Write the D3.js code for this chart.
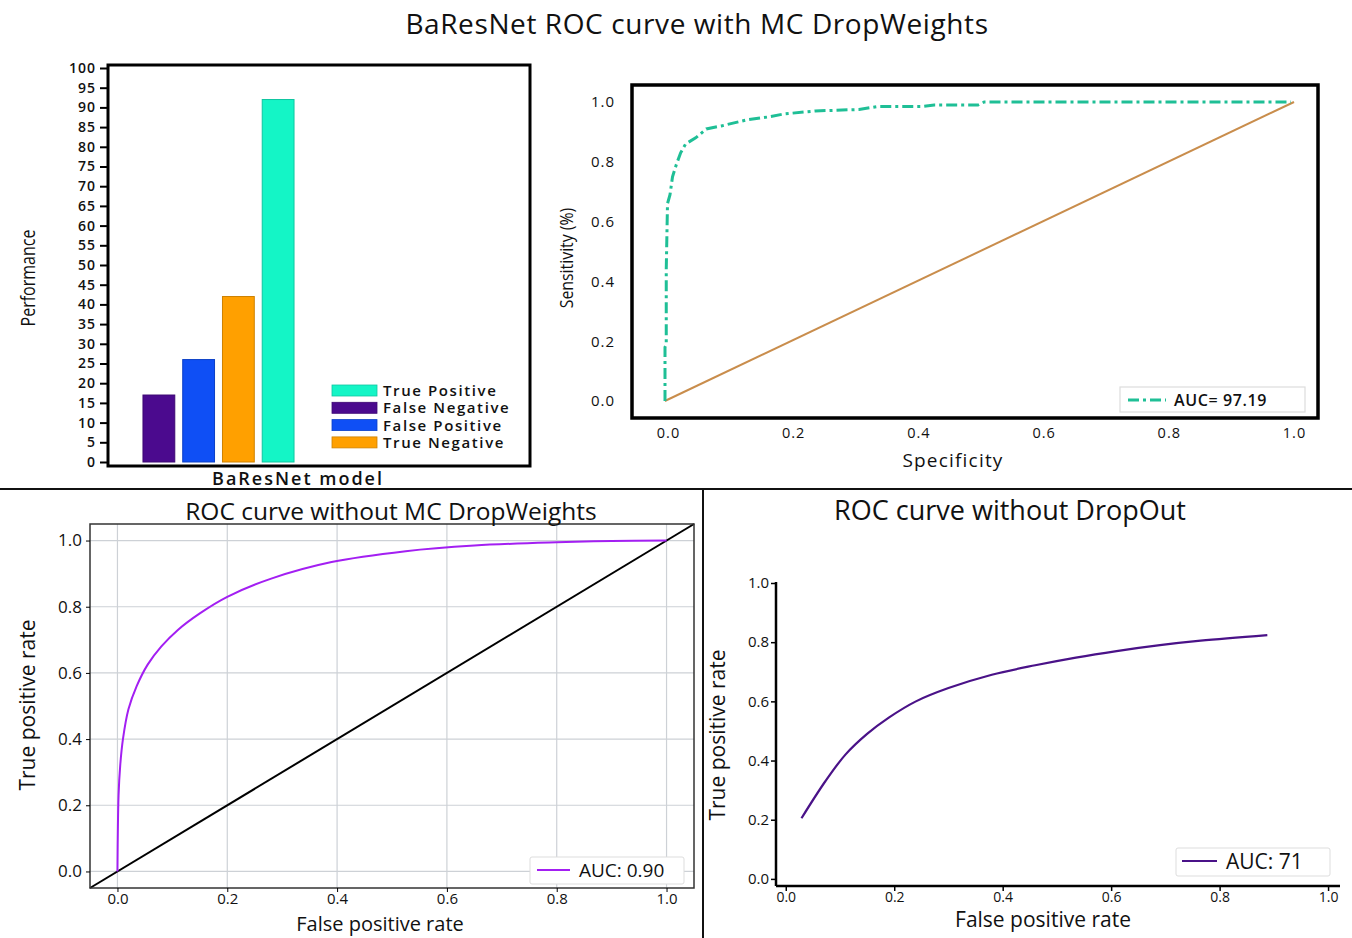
<!DOCTYPE html>
<meta charset="utf-8">
<script src="https://d3js.org/d3.v7.min.js"></script>
<style>
  body { margin: 0; background: #fff; }
  text { font-family: "Open Sans", sans-serif; fill: #111; }
</style>
<svg id="fig" width="1352" height="938"></svg>
<script>

// ---- data ----
var barCats = ["False Negative", "False Positive", "True Negative", "True Positive"];
var barVals = [17, 26, 42, 92];
var barCols = ["#4b0a8e", "#0f4ff5", "#ffa000", "#14f5c6"];
var legendOrder = ["True Positive", "False Negative", "False Positive", "True Negative"];
var barTicks = d3.range(0, 101, 5);

// ROC with MC DropWeights (fpr, tpr)
var dwFpr = [0, 0, 0.002, 0.002, 0.004, 0.008, 0.012, 0.018, 0.025, 0.033, 0.049, 0.066, 0.09, 0.13, 0.165, 0.19, 0.24, 0.31, 0.34, 0.41, 0.43, 0.50, 0.51, 1.0];
var dwTpr = [0, 0.18, 0.19, 0.44, 0.66, 0.69, 0.75, 0.79, 0.83, 0.86, 0.88, 0.91, 0.92, 0.94, 0.95, 0.96, 0.97, 0.975, 0.985, 0.985, 0.99, 0.99, 1.0, 1.0];

// ROC without MC DropWeights
var noDwFpr = [0, 0.002, 0.005, 0.01, 0.02, 0.035, 0.055, 0.08, 0.11, 0.15, 0.2, 0.28, 0.39, 0.525, 0.65, 0.8, 0.9, 1.0];
var noDwTpr = [0, 0.23, 0.32, 0.40, 0.49, 0.56, 0.625, 0.68, 0.73, 0.78, 0.83, 0.885, 0.935, 0.968, 0.985, 0.995, 0.999, 1.0];

// ROC without DropOut
var noDoFpr = [0.029, 0.073, 0.11, 0.15, 0.19, 0.24, 0.30, 0.38, 0.46, 0.535, 0.61, 0.69, 0.765, 0.888];
var noDoTpr = [0.205, 0.33, 0.42, 0.49, 0.545, 0.60, 0.645, 0.69, 0.722, 0.748, 0.77, 0.79, 0.805, 0.824];

var rocTicks = [0, 0.2, 0.4, 0.6, 0.8, 1.0];

var svg = d3.select("#fig");

// main title
svg.append("text").attr("x", 697).attr("y", 34).attr("text-anchor", "middle")
  .style("font-size", "28px").style("letter-spacing", "0.6px").text("BaResNet ROC curve with MC DropWeights");

// section dividers
svg.append("line").attr("x1", 0).attr("x2", 1352).attr("y1", 489).attr("y2", 489)
  .attr("stroke", "#111").attr("stroke-width", 2);
svg.append("line").attr("x1", 703).attr("x2", 703).attr("y1", 489).attr("y2", 938)
  .attr("stroke", "#111").attr("stroke-width", 2);

// ================= bar chart =================
var by = d3.scaleLinear().domain([0, 100]).range([462, 68]);
var bx = d3.scaleBand().domain(barCats).range([139, 298]).paddingInner(0.2).paddingOuter(0.1);
var bcol = d3.scaleOrdinal().domain(barCats).range(barCols);

var gBar = svg.append("g");
gBar.selectAll("rect.bar").data(barCats).enter().append("rect")
  .attr("class", "bar")
  .attr("x", function(d) { return bx(d); })
  .attr("width", bx.bandwidth())
  .attr("y", function(d, i) { return by(barVals[i]); })
  .attr("height", function(d, i) { return by(0) - by(barVals[i]); })
  .attr("fill", function(d) { return bcol(d); })
  .attr("stroke", function(d) { return d3.color(bcol(d)).darker(0.6); })
  .attr("stroke-width", 1);

gBar.append("rect").attr("x", 108).attr("y", 65).attr("width", 422).attr("height", 401)
  .attr("fill", "none").attr("stroke", "#000").attr("stroke-width", 3);

var yAxB = gBar.append("g").attr("transform", "translate(107,0)")
  .call(d3.axisLeft(by).tickValues(barTicks).tickSize(7).tickPadding(4));
yAxB.select(".domain").remove();
yAxB.selectAll("line").attr("stroke", "#000").attr("stroke-width", 2);
yAxB.selectAll("text").style("font-size", "14px").style("font-weight", "600")
  .style("letter-spacing", "1px").attr("fill", "#111");

gBar.append("text").attr("transform", "translate(35,278) rotate(-90) scale(0.8,1)").attr("text-anchor", "middle")
  .style("font-size", "20px").text("Performance");
gBar.append("text").attr("x", 298).attr("y", 485).attr("text-anchor", "middle")
  .style("font-size", "18px").style("font-weight", "600").style("letter-spacing", "2px")
  .text("BaResNet model");

var legB = gBar.selectAll("g.leg").data(legendOrder).enter().append("g")
  .attr("transform", function(d, i) { return "translate(332," + (385 + i * 17.3) + ")"; });
legB.append("rect").attr("width", 45).attr("height", 11)
  .attr("fill", function(d) { return bcol(d); })
  .attr("stroke", function(d) { return d3.color(bcol(d)).darker(0.6); }).attr("stroke-width", 0.8);
legB.append("text").attr("x", 51).attr("y", 11)
  .style("font-size", "15px").style("font-weight", "600").style("letter-spacing", "1.6px")
  .text(function(d) { return d; });

// ================= ROC with MC DropWeights =================
var rx = d3.scaleLinear().domain([0, 1]).range([668, 1294]);
var ry = d3.scaleLinear().domain([0, 1]).range([401, 102]);
var gR = svg.append("g");

gR.append("line").attr("x1", rx(-0.005)).attr("y1", ry(0)).attr("x2", rx(1)).attr("y2", ry(1))
  .attr("stroke", "#c98d4c").attr("stroke-width", 2);

var dwPts = dwFpr.map(function(f, i) { return [f, dwTpr[i]]; });
gR.append("path").datum(dwPts)
  .attr("d", d3.line().x(function(d) { return rx(d[0]) - 3; }).y(function(d) { return ry(d[1]); }))
  .attr("fill", "none").attr("stroke", "#1fbf96").attr("stroke-width", 3)
  .attr("stroke-dasharray", "11,4,3,4");

gR.append("rect").attr("x", 632).attr("y", 85).attr("width", 686).attr("height", 333)
  .attr("fill", "none").attr("stroke", "#000").attr("stroke-width", 3.5);

var xAxR = gR.append("g").attr("transform", "translate(0,425)")
  .call(d3.axisBottom(rx).tickValues(rocTicks).tickSize(0).tickFormat(d3.format(".1f")));
xAxR.select(".domain").remove();
xAxR.selectAll("text").style("font-size", "14.5px").style("letter-spacing", "1px").attr("fill", "#222");
var yAxR = gR.append("g").attr("transform", "translate(618,0)")
  .call(d3.axisLeft(ry).tickValues(rocTicks).tickSize(0).tickFormat(d3.format(".1f")));
yAxR.select(".domain").remove();
yAxR.selectAll("text").style("font-size", "15px").style("letter-spacing", "1px").attr("fill", "#222");

gR.append("text").attr("x", 953).attr("y", 467).attr("text-anchor", "middle")
  .style("font-size", "19px").style("letter-spacing", "1.2px").text("Specificity");
gR.append("text").attr("transform", "translate(573,258) rotate(-90) scale(0.88,1)").attr("text-anchor", "middle")
  .style("font-size", "18px").text("Sensitivity (%)");

gR.append("rect").attr("x", 1120).attr("y", 387).attr("width", 185).attr("height", 25)
  .attr("fill", "#fff").attr("stroke", "#ddd").attr("stroke-width", 1.2);
gR.append("line").attr("x1", 1128).attr("x2", 1166).attr("y1", 400).attr("y2", 400)
  .attr("stroke", "#1fbf96").attr("stroke-width", 3).attr("stroke-dasharray", "11,4,3,4");
gR.append("text").attr("x", 1174).attr("y", 406).style("font-size", "16px").style("font-weight", "600")
  .style("letter-spacing", "0.6px").attr("fill", "#222").text("AUC= 97.19");

// ================= ROC without MC DropWeights =================
var lx = d3.scaleLinear().domain([-0.05, 1.05]).range([90, 694]);
var ly = d3.scaleLinear().domain([-0.05, 1.05]).range([888, 524]);
var gL = svg.append("g");

gL.selectAll("line.gx").data(rocTicks).enter().append("line")
  .attr("x1", function(d) { return lx(d); }).attr("x2", function(d) { return lx(d); })
  .attr("y1", ly(1.05)).attr("y2", ly(-0.05)).attr("stroke", "#cdd1d6").attr("stroke-width", 1.2);
gL.selectAll("line.gy").data(rocTicks).enter().append("line")
  .attr("y1", function(d) { return ly(d); }).attr("y2", function(d) { return ly(d); })
  .attr("x1", lx(-0.05)).attr("x2", lx(1.05)).attr("stroke", "#cdd1d6").attr("stroke-width", 1.2);

gL.append("line").attr("x1", lx(-0.05)).attr("y1", ly(-0.05)).attr("x2", lx(1.05)).attr("y2", ly(1.05))
  .attr("stroke", "#000").attr("stroke-width", 2);

var ndPts = noDwFpr.map(function(f, i) { return [f, noDwTpr[i]]; });
gL.append("path").datum(ndPts)
  .attr("d", d3.line().curve(d3.curveCatmullRom.alpha(0.5)).x(function(d) { return lx(d[0]); }).y(function(d) { return ly(d[1]); }))
  .attr("fill", "none").attr("stroke", "#a31ff2").attr("stroke-width", 2);

gL.append("rect").attr("x", lx(-0.05)).attr("y", ly(1.05)).attr("width", lx(1.05) - lx(-0.05))
  .attr("height", ly(-0.05) - ly(1.05)).attr("fill", "none").attr("stroke", "#333").attr("stroke-width", 1.5);

var xAxL = gL.append("g").attr("transform", "translate(0," + ly(-0.05) + ")")
  .call(d3.axisBottom(lx).tickValues(rocTicks).tickSize(4).tickPadding(1).tickFormat(d3.format(".1f")));
xAxL.select(".domain").remove();
xAxL.selectAll("text").style("font-size", "15px").attr("fill", "#111");
var yAxL = gL.append("g").attr("transform", "translate(" + lx(-0.05) + ",0)")
  .call(d3.axisLeft(ly).tickValues(rocTicks).tickSize(4).tickPadding(4).tickFormat(d3.format(".1f")));
yAxL.select(".domain").remove();
yAxL.selectAll("text").style("font-size", "17px").attr("fill", "#111");

gL.append("text").attr("x", 391).attr("y", 520).attr("text-anchor", "middle")
  .style("font-size", "24.5px").text("ROC curve without MC DropWeights");
gL.append("text").attr("x", 380).attr("y", 931).attr("text-anchor", "middle")
  .style("font-size", "20px").text("False positive rate");
gL.append("text").attr("transform", "translate(35,705) rotate(-90)").attr("text-anchor", "middle")
  .style("font-size", "21px").text("True positive rate");

gL.append("rect").attr("x", 530).attr("y", 857).attr("width", 154).attr("height", 27).attr("rx", 2)
  .attr("fill", "#fff").attr("stroke", "#ddd").attr("stroke-width", 1);
gL.append("line").attr("x1", 537).attr("x2", 570).attr("y1", 870).attr("y2", 870)
  .attr("stroke", "#a31ff2").attr("stroke-width", 2);
gL.append("text").attr("x", 579).attr("y", 877).style("font-size", "19px").text("AUC: 0.90");

// ================= ROC without DropOut =================
var qx = d3.scaleLinear().domain([-0.018, 1.022]).range([776, 1340]);
var qy = d3.scaleLinear().domain([-0.024, 1.0]).range([886, 583]);
var gQ = svg.append("g");

var doPts = noDoFpr.map(function(f, i) { return [f, noDoTpr[i]]; });
gQ.append("path").datum(doPts)
  .attr("d", d3.line().curve(d3.curveCatmullRom.alpha(0.5)).x(function(d) { return qx(d[0]); }).y(function(d) { return qy(d[1]); }))
  .attr("fill", "none").attr("stroke", "#4a1288").attr("stroke-width", 2.2);

var xAxQ = gQ.append("g").attr("transform", "translate(0,886)")
  .call(d3.axisBottom(qx).tickValues(rocTicks).tickSize(5).tickPadding(1).tickFormat(d3.format(".1f")));
xAxQ.select(".domain").attr("stroke-width", 2.5).attr("d", "M776,0H1340");
xAxQ.selectAll("line").attr("stroke-width", 1.5);
xAxQ.selectAll("text").style("font-size", "14px").attr("fill", "#222");
var yAxQ = gQ.append("g").attr("transform", "translate(776,0)")
  .call(d3.axisLeft(qy).tickValues(rocTicks).tickSize(5).tickPadding(2).tickFormat(d3.format(".1f")));
yAxQ.select(".domain").attr("stroke-width", 2.5).attr("d", "M0,582V886");
yAxQ.selectAll("line").attr("stroke-width", 1.5);
yAxQ.selectAll("text").style("font-size", "15px").attr("fill", "#222");

gQ.append("text").attr("x", 1010).attr("y", 520).attr("text-anchor", "middle")
  .style("font-size", "27px").text("ROC curve without DropOut");
gQ.append("text").attr("x", 1043).attr("y", 927).attr("text-anchor", "middle")
  .style("font-size", "21px").text("False positive rate");
gQ.append("text").attr("transform", "translate(725,735) rotate(-90)").attr("text-anchor", "middle")
  .style("font-size", "21px").text("True positive rate");

gQ.append("rect").attr("x", 1176).attr("y", 848).attr("width", 154).attr("height", 28).attr("rx", 2)
  .attr("fill", "#fff").attr("stroke", "#ddd").attr("stroke-width", 1);
gQ.append("line").attr("x1", 1182).attr("x2", 1217).attr("y1", 861).attr("y2", 861)
  .attr("stroke", "#4a1288").attr("stroke-width", 2.2);
gQ.append("text").attr("x", 1226).attr("y", 869).style("font-size", "21px").text("AUC: 71");

</script>
